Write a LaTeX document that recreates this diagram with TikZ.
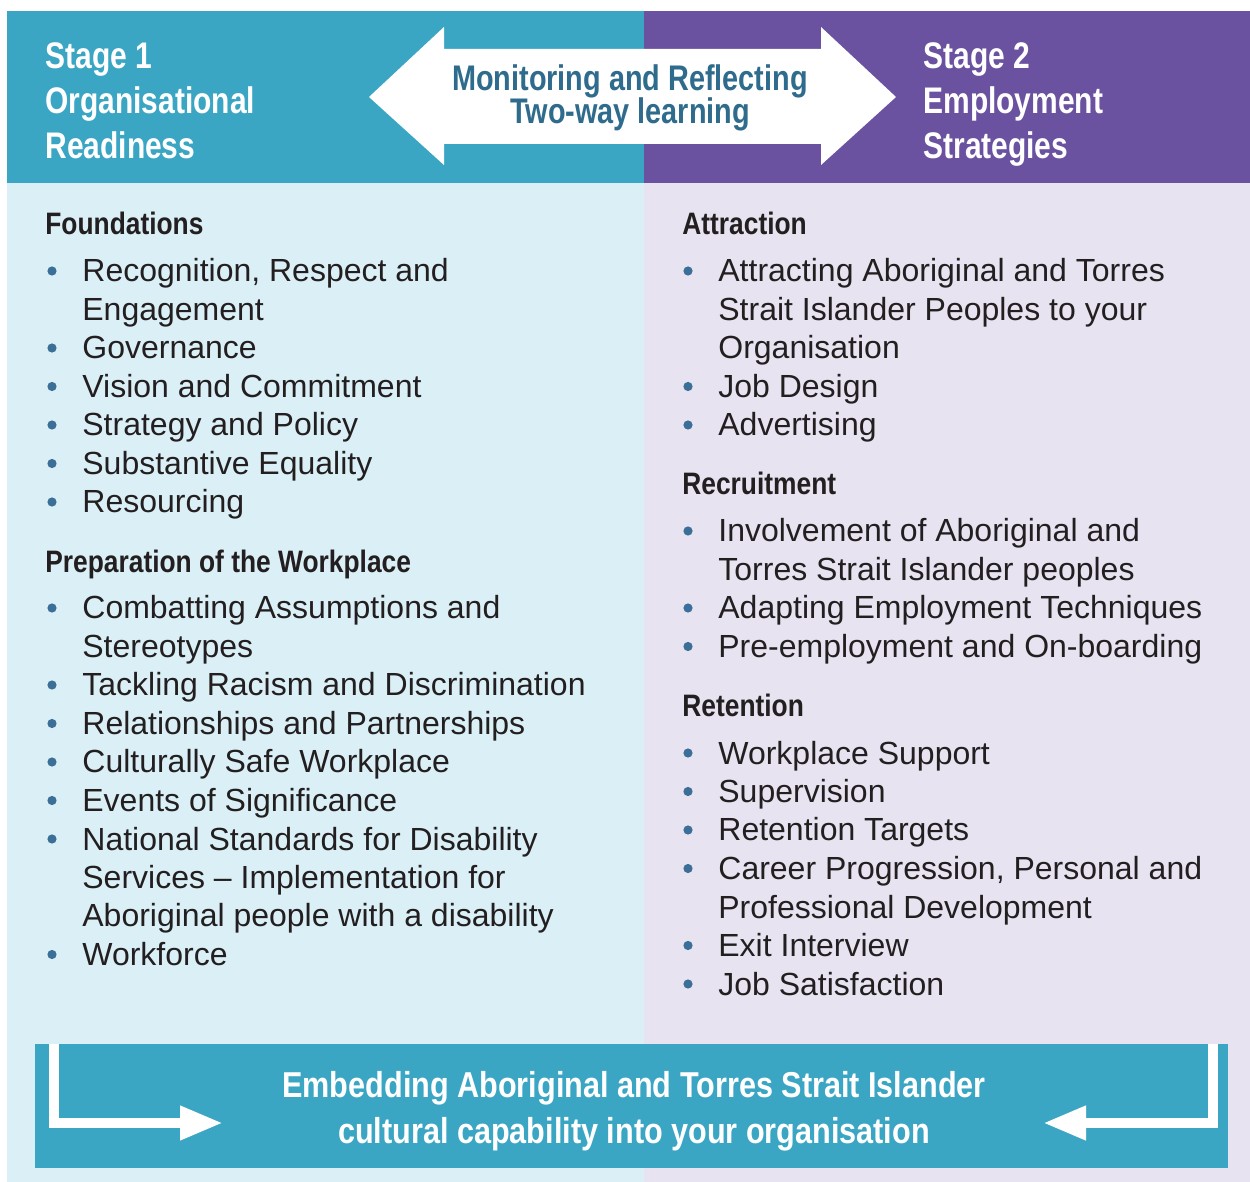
\documentclass[tikz,border=0pt]{standalone}
\usepackage{fontspec}
\setmainfont{Liberation Sans}
\newfontfamily\condfont{Liberation Sans}[FakeStretch=0.85]
\newfontfamily\narrowfont{Liberation Sans}[FakeStretch=0.81]
\usetikzlibrary{calc, positioning, arrows.meta}

\definecolor{stageteal}{HTML}{3BA6C4}
\definecolor{stagepurple}{HTML}{6A52A0}
\definecolor{paleteal}{HTML}{DAF0F6}
\definecolor{palepurple}{HTML}{E7E3F0}
\definecolor{arrowblue}{HTML}{2F6B8C}
\definecolor{bodytext}{HTML}{231F20}
\definecolor{dotblue}{HTML}{3B6F98}

\tikzset{
    stagehead/.style={font=\narrowfont\bfseries\fontsize{18.5}{22}\selectfont, text=white, inner sep=0pt},
    bannertext/.style={font=\condfont\bfseries\fontsize{18}{22}\selectfont, text=white, inner sep=0pt, anchor=base},
    loophead/.style={font=\narrowfont\bfseries\fontsize{17.8}{21}\selectfont, text=arrowblue, inner sep=0pt, anchor=base},
    sechead/.style={font=\condfont\bfseries\fontsize{15.5}{19}\selectfont, text=bodytext, inner sep=0pt, anchor=base west},
    listline/.style={font=\fontsize{16}{19}\selectfont, text=bodytext, inner sep=0pt, anchor=base west},
    whitebend/.style={draw=white, line width=5pt, miter limit=10, -{Triangle[length=21.5pt, width=16pt]}}
}

\begin{document}
\begin{tikzpicture}[x=0.5pt, y=-0.5pt]

    \useasboundingbox (0,0) rectangle (1250,1182);
    \fill[white] (0,0) rectangle (1250,1182);

    % pale panels
    \fill[paleteal] (7,183) rectangle (644,1182);
    \fill[palepurple] (644,183) rectangle (1250,1182);

    % stage bands
    \fill[stageteal] (7,11) rectangle (644,183);
    \fill[stagepurple] (644,11) rectangle (1250,183);

    % two-way arrow
    \fill[white] (369,97) -- (444,27) -- (444,49) -- (821,49) -- (821,27) -- (896,97)
        -- (821,165) -- (821,144) -- (444,144) -- (444,165) -- cycle;

    \node[loophead] (loop1) at (630,90.5) {Monitoring and Reflecting};
    \node[loophead] (loop2) at (630,124) {Two-way learning};

    % stage titles
    \foreach \t [count=\i] in {Stage 1, Organisational, Readiness}
        \node[stagehead, anchor=base west] (sa\i) at (45,24+45*\i) {\t};
    \foreach \t [count=\i] in {Stage 2, Employment, Strategies}
        \node[stagehead, anchor=base west] (sb\i) at (923,24+45*\i) {\t};

    % left column
    \node[sechead] (found) at (45,235) {Foundations};
    \foreach \t/\b [count=\i] in {{Recognition, Respect and}/1, Engagement/0, Governance/1,
            Vision and Commitment/1, Strategy and Policy/1, Substantive Equality/1, Resourcing/1}
    {
        \node[listline] (fd\i) at (82,243.5+38.5*\i) {\t};
        \ifnum\b=1 \fill[dotblue] (52,232.5+38.5*\i) circle[radius=2.3pt]; \fi
    }

    \node[sechead] (prep) at (45,573) {Preparation of the Workplace};
    \foreach \t/\b [count=\i] in {Combatting Assumptions and/1, Stereotypes/0,
            Tackling Racism and Discrimination/1, Relationships and Partnerships/1,
            Culturally Safe Workplace/1, Events of Significance/1,
            National Standards for Disability/1, Services – Implementation for/0,
            Aboriginal people with a disability/0, Workforce/1}
    {
        \node[listline] (pw\i) at (82,580.5+38.5*\i) {\t};
        \ifnum\b=1 \fill[dotblue] (52,569.5+38.5*\i) circle[radius=2.3pt]; \fi
    }

    % right column
    \node[sechead] (attr) at (682,235) {Attraction};
    \foreach \t/\b [count=\i] in {Attracting Aboriginal and Torres/1,
            Strait Islander Peoples to your/0, Organisation/0, Job Design/1, Advertising/1}
    {
        \node[listline] (at\i) at (718,243.5+38.5*\i) {\t};
        \ifnum\b=1 \fill[dotblue] (688,232.5+38.5*\i) circle[radius=2.3pt]; \fi
    }

    \node[sechead] (recr) at (682,495) {Recruitment};
    \foreach \t/\b [count=\i] in {Involvement of Aboriginal and/1,
            Torres Strait Islander peoples/0, Adapting Employment Techniques/1,
            Pre-employment and On-boarding/1}
    {
        \node[listline] (rc\i) at (718,503.5+38.5*\i) {\t};
        \ifnum\b=1 \fill[dotblue] (688,492.5+38.5*\i) circle[radius=2.3pt]; \fi
    }

    \node[sechead] (ret) at (682,717) {Retention};
    \foreach \t/\b [count=\i] in {Workplace Support/1, Supervision/1, Retention Targets/1,
            {Career Progression, Personal and}/1, Professional Development/0,
            Exit Interview/1, Job Satisfaction/1}
    {
        \node[listline] (rt\i) at (718,725.5+38.5*\i) {\t};
        \ifnum\b=1 \fill[dotblue] (688,714.5+38.5*\i) circle[radius=2.3pt]; \fi
    }

    % bottom banner
    \fill[stageteal] (35,1044) rectangle (1228,1168);
    \node[bannertext] (emb1) at (634,1097.5) {Embedding Aboriginal and Torres Strait Islander};
    \node[bannertext] (emb2) at (634,1143) {cultural capability into your organisation};

    \coordinate (lefttop) at (54,1044);
    \coordinate (leftend) at (223,1123);
    \coordinate (righttop) at (1213,1044);
    \coordinate (rightend) at (1043,1123);
    \draw[whitebend] (lefttop) |- (leftend);
    \draw[whitebend] (righttop) |- (rightend);

\end{tikzpicture}
\end{document}
